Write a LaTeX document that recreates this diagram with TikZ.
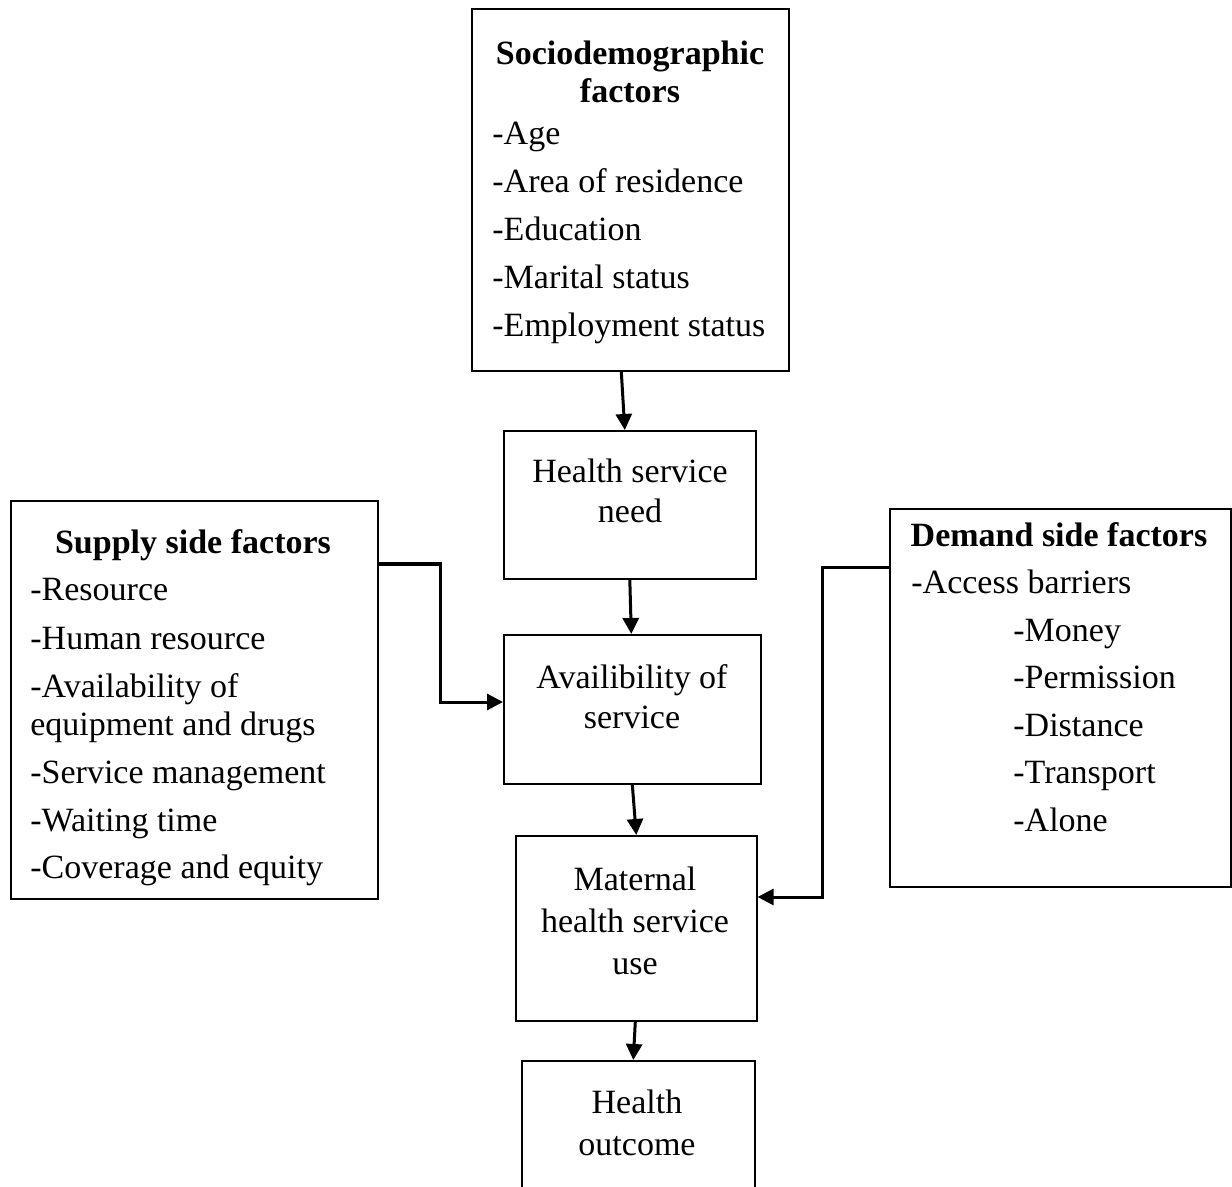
\documentclass[tikz,border=0pt]{standalone}
\usepackage{fontspec}
\setmainfont{Liberation Serif}
\usetikzlibrary{arrows.meta}
\begin{document}
\begin{tikzpicture}[x=0.5pt,y=-0.5pt,
  box/.style={draw,line width=0.8pt,inner sep=0pt,anchor=north west},
  txt/.style={inner sep=0pt,anchor=base west,font=\fontsize{17}{24}\selectfont,yshift=-1.5pt},
  ctxt/.style={inner sep=0pt,anchor=base,font=\fontsize{17}{24}\selectfont,yshift=-1.5pt},
  btxt/.style={inner sep=0pt,anchor=base,font=\fontsize{17}{24}\selectfont\bfseries,yshift=-1.5pt},
  conn/.style={line width=1.5pt,-{Triangle[length=8pt,width=8pt]}}]
\useasboundingbox (0,0) rectangle (1232,1187);
% boxes
\node[box,minimum width=317pt*0.5,minimum height=362pt*0.5] (socio) at (471,8) {};
\node[box,minimum width=252pt*0.5,minimum height=148pt*0.5] (need) at (503,430) {};
\node[box,minimum width=257pt*0.5,minimum height=149pt*0.5] (avail) at (503,634) {};
\node[box,minimum width=241pt*0.5,minimum height=185pt*0.5] (mat) at (515,835) {};
\node[box,minimum width=233pt*0.5,minimum height=140pt*0.5] (out) at (521,1060) {};
\node[box,minimum width=367pt*0.5,minimum height=398pt*0.5] (supply) at (10,500) {};
\node[box,minimum width=341pt*0.5,minimum height=378pt*0.5] (demand) at (889,508) {};
% socio text
\node[btxt] (s0) at (630,62) {Sociodemographic};
\node[btxt] (s1) at (630,100) {factors};
\node[txt] (s2) at (492,142) {-Age};
\node[txt] (s3) at (492,190) {-Area of residence};
\node[txt] (s4) at (492,238) {-Education};
\node[txt] (s5) at (492,286) {-Marital status};
\node[txt] (s6) at (492,334) {-Employment status};
% middle boxes text
\node[ctxt] (n1) at (630,480) {Health service};
\node[ctxt] (n2) at (630,520) {need};
\node[ctxt] (a1) at (632,685) {Availibility of};
\node[ctxt] (a2) at (632,725) {service};
\node[ctxt] (m1) at (635,887) {Maternal};
\node[ctxt] (m2) at (635,929) {health service};
\node[ctxt] (m3) at (635,971) {use};
\node[ctxt] (o1) at (637,1110) {Health};
\node[ctxt] (o2) at (637,1152) {outcome};
% supply text
\node[btxt] (p0) at (193,550) {Supply side factors};
\node[txt] (p1) at (30,598) {-Resource};
\node[txt] (p2) at (30,646) {-Human resource};
\node[txt] (p3) at (30,694) {-Availability of};
\node[txt] (p4) at (30,732) {equipment and drugs};
\node[txt] (p5) at (30,780) {-Service management};
\node[txt] (p6) at (30,828) {-Waiting time};
\node[txt] (p7) at (30,875) {-Coverage and equity};
% demand text
\node[btxt] (d0) at (1059,543) {Demand side factors};
\node[txt] (d1) at (911,590) {-Access barriers};
\node[txt] (d2) at (1013,638) {-Money};
\node[txt] (d3) at (1013,685) {-Permission};
\node[txt] (d4) at (1013,733) {-Distance};
\node[txt] (d5) at (1013,780) {-Transport};
\node[txt] (d6) at (1013,828) {-Alone};
% connectors
\draw[conn] ([xshift=-4.5pt]socio.south) -- ([xshift=-2.5pt]need.north);
\draw[conn] (need.south) -- ([xshift=-0.5pt]avail.north);
\draw[conn] (avail.south) -- (mat.north);
\draw[conn] ([xshift=-0.5pt]mat.south) -- ([xshift=-2.5pt]out.north);
\draw[conn] (supply.east |- 0,564) -| (440,702) -- (avail.west |- 0,702);
\draw[conn] (demand.west |- 0,567) -| (822,897) -- (mat.east |- 0,897);
\end{tikzpicture}
\end{document}
